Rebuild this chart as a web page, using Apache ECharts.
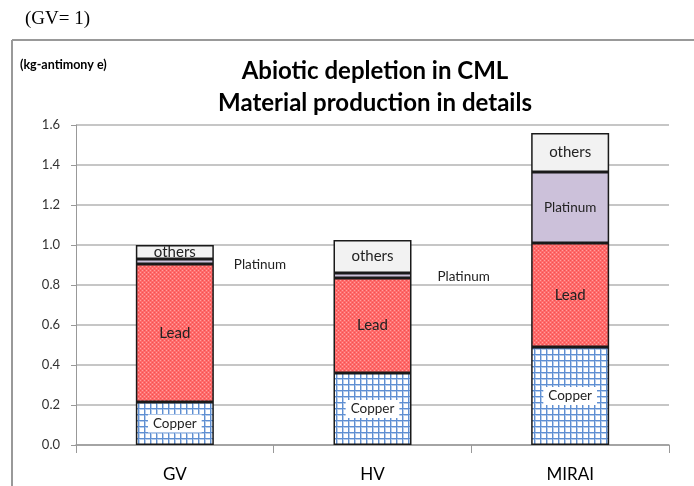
<!DOCTYPE html>
<html lang="en">
<head>
    <meta charset="UTF-8">
    <title>Abiotic depletion in CML</title>
    <script src="https://cdn.jsdelivr.net/npm/echarts@6/dist/echarts.min.js"></script>
    <style>
        html, body { margin: 0; padding: 0; background: #fff; }
    </style>
</head>
<body>
<div id="chart" style="width: 694px;height:486px;"></div>
<script>
    let categories = ['GV', 'HV', 'MIRAI'],
        copper = [0.215, 0.36, 0.49],
        lead = [0.69, 0.475, 0.52],
        platinum = [0.025, 0.025, 0.355],
        others = [0.07, 0.165, 0.195],
        yTicks = [0, 0.2, 0.4, 0.6, 0.8, 1.0, 1.2, 1.4, 1.6];

    let font = 'Lato, "Open Sans", sans-serif';

    // copper: blue grid on white
    function gridPattern() {
        let c = document.createElement('canvas');
        c.width = 6; c.height = 6;
        let g = c.getContext('2d');
        g.fillStyle = '#ffffff';
        g.fillRect(0, 0, 6, 6);
        g.fillStyle = '#b7cdeb';
        g.fillRect(1, 0, 1, 6);
        g.fillRect(0, 1, 6, 1);
        g.fillStyle = '#5f8fd2';
        g.fillRect(0, 0, 1, 6);
        g.fillRect(0, 0, 6, 1);
        return c;
    }

    // lead: fine red check
    function dotPattern() {
        let c = document.createElement('canvas');
        c.width = 4; c.height = 4;
        let g = c.getContext('2d');
        g.fillStyle = '#ff6a6a';
        g.fillRect(0, 0, 4, 4);
        g.fillStyle = '#ffa0a0';
        g.fillRect(0, 0, 1, 1);
        g.fillRect(2, 2, 1, 1);
        g.fillStyle = '#f25252';
        g.fillRect(2, 0, 1, 1);
        g.fillRect(0, 2, 1, 1);
        return c;
    }

    let border = {borderColor: '#1a1a1a', borderWidth: 1.5};

    let myChart = echarts.init(document.getElementById('chart')),
        option = {
            animation: false,
            backgroundColor: '#fff',
            textStyle: {fontFamily: font},
            title: {
                text: 'Abiotic depletion in CML\nMaterial production in details',
                left: 370,
                textAlign: 'center',
                top: 50,
                textStyle: {fontFamily: font, fontSize: 24, fontWeight: 'bold', color: '#000', lineHeight: 32}
            },
            graphic: [
                {type: 'line', shape: {x1: 12, y1: 40, x2: 694, y2: 40}, style: {stroke: '#999', lineWidth: 2}},
                {type: 'line', shape: {x1: 12, y1: 40, x2: 12, y2: 486}, style: {stroke: '#999', lineWidth: 2}},
                {type: 'text', left: 25, top: 10, style: {text: '(GV= 1)', fontFamily: '"Liberation Serif", "DejaVu Serif", serif', fontSize: 19, fill: '#000'}},
                {type: 'text', left: 20, top: 58, style: {text: '(kg-antimony e)', fontFamily: font, fontSize: 12.5, fontWeight: 'bold', fill: '#000'}}
            ],
            grid: {left: 76, right: 25, top: 125, bottom: 41},
            xAxis: {
                type: 'category',
                data: categories,
                axisLine: {lineStyle: {color: '#999', width: 1.5}},
                axisTick: {show: true, length: 8, lineStyle: {color: '#999'}},
                axisLabel: {fontSize: 17, color: '#000', margin: 21, fontFamily: font}
            },
            yAxis: {
                type: 'value',
                min: yTicks[0],
                max: yTicks[yTicks.length - 1],
                interval: 0.2,
                axisLine: {show: true, lineStyle: {color: '#999'}},
                axisTick: {show: true, length: 5, lineStyle: {color: '#999'}},
                splitLine: {lineStyle: {color: '#b3b3b3', width: 1.5}},
                axisLabel: {fontSize: 13, color: '#333', margin: 16, fontFamily: font, formatter: v => v.toFixed(1)}
            },
            series: [
                {
                    name: 'Copper', type: 'bar', stack: 'a', barWidth: 78,
                    data: copper,
                    itemStyle: Object.assign({color: {image: gridPattern(), repeat: 'repeat'}}, border),
                    label: {
                        show: true, position: 'inside', formatter: 'Copper', fontSize: 13.5, color: '#222',
                        backgroundColor: '#fff', padding: [2, 5], fontFamily: font
                    }
                },
                {
                    name: 'Lead', type: 'bar', stack: 'a',
                    data: lead,
                    itemStyle: Object.assign({color: {image: dotPattern(), repeat: 'repeat'}}, border),
                    label: {show: true, position: 'inside', formatter: 'Lead', fontSize: 15, color: '#222', fontFamily: font}
                },
                {
                    name: 'Platinum', type: 'bar', stack: 'a',
                    data: platinum.map((v, i) => i < 2 ? {
                        value: v,
                        label: {position: 'right', distance: i === 0 ? 20 : 26, offset: [0, i === 0 ? 3 : 1]}
                    } : v),
                    itemStyle: Object.assign({color: '#ccc1da'}, border),
                    label: {show: true, position: 'inside', formatter: 'Platinum', fontSize: 13.5, color: '#222', fontFamily: font}
                },
                {
                    name: 'others', type: 'bar', stack: 'a',
                    data: others,
                    itemStyle: Object.assign({color: '#f2f2f2'}, border),
                    label: {show: true, position: 'inside', formatter: 'others', fontSize: 15, color: '#222', fontFamily: font}
                }
            ]
        };
    myChart.setOption(option);
</script>
</body>
</html>
